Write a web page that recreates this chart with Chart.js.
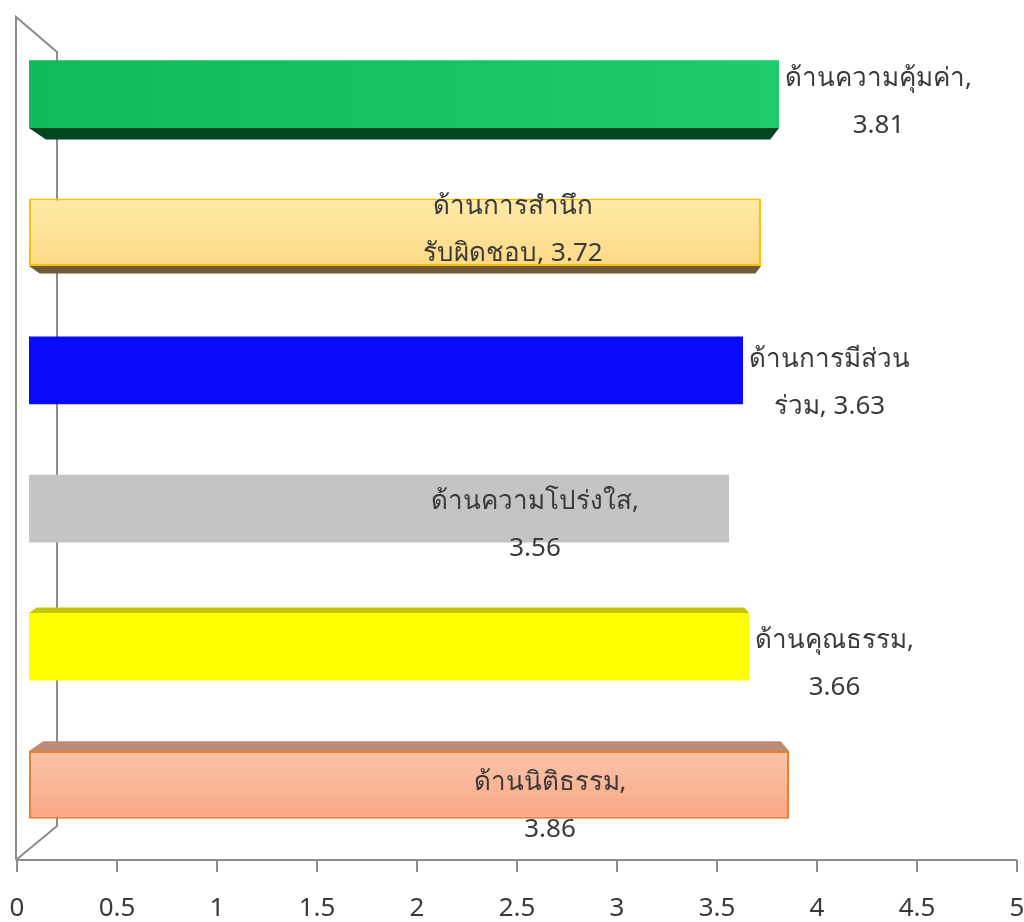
<!DOCTYPE html>
<html>
<head>
<meta charset="utf-8">
<script src="https://cdn.jsdelivr.net/npm/chart.js@4/dist/chart.umd.min.js"></script>
<style>
  html, body { margin: 0; padding: 0; background: #fff; }
  #wrap { width: 1024px; height: 922px; }
</style>
</head>
<body>
<div id="wrap"><canvas id="chart"></canvas></div>
<script>
// data, top bar first
const categories = ["ด้านความคุ้มค่า", "ด้านการสำนึกรับผิดชอบ", "ด้านการมีส่วนร่วม", "ด้านความโปร่งใส", "ด้านคุณธรรม", "ด้านนิติธรรม"];
const scores = [3.81, 3.72, 3.63, 3.56, 3.66, 3.86];
const xTicks = [0, 0.5, 1, 1.5, 2, 2.5, 3, 3.5, 4, 4.5, 5];
const xTickLabels = ["0", "0.5", "1", "1.5", "2", "2.5", "3", "3.5", "4", "4.5", "5"];
// where the label text wraps inside the name (null = wrap after the comma)
const labelBreaks = [null, 12, 13, null, null, null];

// [top/left colour, bottom/right colour] of each front face
const frontColors = [["#0fbb58", "#22d173"], ["#ffeaa8", "#fdd985"], ["#0a0aff", "#0a0aff"], ["#c4c4c4", "#c4c4c4"], ["#ffff00", "#ffff00"], ["#fbc4a9", "#f8a784"]];
const sideColors = ["#00471f", "#6e5c3a", "#00007a", "#8a8a8a", "#c4c400", "#bc8a75"];
const borderColors = ["#14c462", "#ffc000", "#0a0aff", "#c4c4c4", "#ffff00", "#ed7d31"];
const borderWidths = [0, 2, 0, 0, 0, 2];
// label block placement: dx from bar end to block centre (null = just outside), dy of first line
const labelDx = [null, -248, null, -194, null, -239];
const labelDy = [-15, -26, -11, -7, -6, -2];

const textColor = "#3a3a3a";
const fontFamily = '"Noto Sans", Tahoma, sans-serif';

function labelLines(i) {
  const name = categories[i];
  const val = scores[i].toFixed(2);
  if (labelBreaks[i] == null) return [name + ",", val];
  return [name.slice(0, labelBreaks[i]), name.slice(labelBreaks[i]) + ", " + val];
}

const wallPlugin = {
  id: "wall",
  beforeDatasetsDraw(chart) {
    const ctx = chart.ctx;
    const xs = chart.scales.x;
    const x0 = xs.getPixelForValue(0);
    const x5 = xs.getPixelForValue(5);
    const axisY = 860;
    ctx.save();
    ctx.strokeStyle = "#8c8c8c";
    ctx.lineWidth = 2;
    ctx.beginPath();
    ctx.moveTo(x0 - 1, axisY);
    ctx.lineTo(x0 - 1, 17);
    ctx.lineTo(x0 + 40, 52);
    ctx.lineTo(x0 + 40, 826);
    ctx.lineTo(x0 - 1, axisY);
    ctx.moveTo(x0 - 1, axisY);
    ctx.lineTo(x5, axisY);
    xTicks.forEach(t => {
      const px = Math.round(xs.getPixelForValue(t));
      ctx.moveTo(px, axisY);
      ctx.lineTo(px, axisY + 12);
    });
    ctx.stroke();

    // tick labels placed by the x scale
    ctx.font = "26px " + fontFamily;
    ctx.fillStyle = textColor;
    ctx.textAlign = "center";
    ctx.textBaseline = "middle";
    xTicks.forEach((t, k) => {
      ctx.fillText(xTickLabels[k], xs.getPixelForValue(t), 909);
    });
    ctx.restore();

    // bars start a bit in front of the wall
    chart.getDatasetMeta(0).data.forEach(el => { el.base = x0 + 12; });
  },
  afterDatasetsDraw(chart) {
    const ctx = chart.ctx;
    const eyeY = 470;
    ctx.save();
    chart.getDatasetMeta(0).data.forEach((el, i) => {
      const left = el.base;
      const right = el.x;
      const top = el.y - el.height / 2;
      const bot = el.y + el.height / 2;
      const d = (el.y - eyeY) * 0.031;
      if (Math.abs(d) >= 3.5) {
        ctx.fillStyle = sideColors[i];
        ctx.beginPath();
        if (d < 0) {
          // bar above eye level: underside shows
          const dd = -d;
          ctx.moveTo(left, bot);
          ctx.lineTo(right, bot);
          ctx.lineTo(right - dd * 0.75, bot + dd);
          ctx.lineTo(left + dd * 1.45, bot + dd);
        } else {
          ctx.moveTo(left, top);
          ctx.lineTo(right, top);
          ctx.lineTo(right - d * 0.85, top - d);
          ctx.lineTo(left + d * 1.45, top - d);
        }
        ctx.closePath();
        ctx.fill();
      }

      // data label
      const lines = labelLines(i);
      ctx.font = "26px " + fontFamily;
      ctx.fillStyle = textColor;
      ctx.textAlign = "center";
      ctx.textBaseline = "middle";
      let cx;
      if (labelDx[i] == null) {
        const w = Math.max(...lines.map(l => ctx.measureText(l).width));
        cx = right + 6 + w / 2;
      } else {
        cx = right + labelDx[i];
      }
      lines.forEach((l, k) => {
        ctx.fillText(l, cx, el.y + labelDy[i] + k * 47);
      });
    });
    ctx.restore();
  }
};

const ctx = document.getElementById("chart").getContext("2d");
new Chart(ctx, {
  type: "bar",
  data: {
    labels: categories,
    datasets: [{
      data: scores,
      backgroundColor: function(c) {
        const i = c.dataIndex;
        const cols = frontColors[i];
        const chart = c.chart;
        if (!chart.chartArea || !chart.scales.y) return cols[0];
        let g;
        if (i === 0) {
          g = chart.ctx.createLinearGradient(chart.chartArea.left, 0, chart.chartArea.right, 0);
        } else {
          const cy = chart.scales.y.getPixelForValue(i);
          g = chart.ctx.createLinearGradient(0, cy - 34, 0, cy + 34);
        }
        g.addColorStop(0, cols[0]);
        g.addColorStop(1, cols[1]);
        return g;
      },
      borderColor: borderColors,
      borderWidth: borderWidths,
      borderSkipped: false,
      categoryPercentage: 1,
      barPercentage: 0.49
    }]
  },
  options: {
    indexAxis: "y",
    responsive: true,
    maintainAspectRatio: false,
    animation: false,
    layout: { padding: { top: 25, left: 17, right: 7, bottom: 68 } },
    plugins: {
      legend: { display: false },
      tooltip: { enabled: false }
    },
    scales: {
      y: { display: false },
      x: {
        min: 0,
        max: 5,
        grid: { display: false, drawTicks: false },
        border: { display: false },
        ticks: { display: false }
      }
    }
  },
  plugins: [wallPlugin]
});
</script>
</body>
</html>
